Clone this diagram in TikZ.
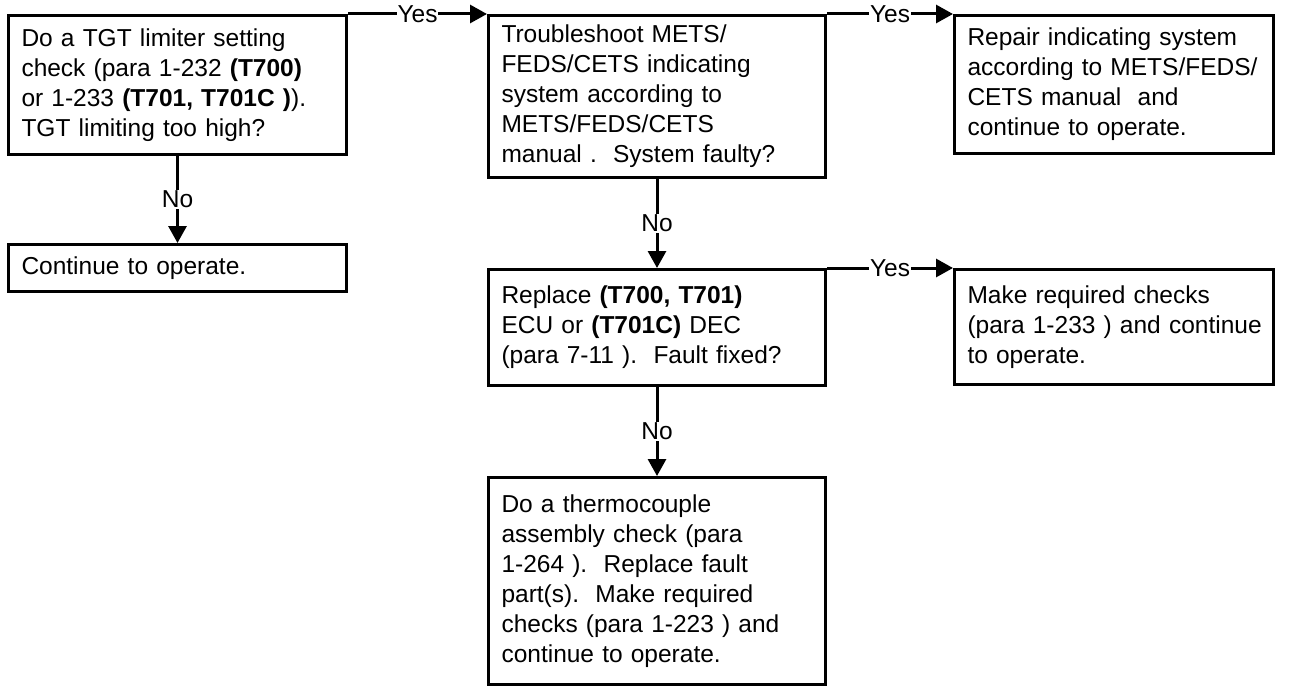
\documentclass[tikz,border=0pt]{standalone}
\usepackage{fontspec}
\setmainfont{Liberation Sans}
\usetikzlibrary{shapes,arrows.meta}

\tikzset{
  box/.style={rectangle, draw, line width=3pt, anchor=north west, align=left,
    inner xsep=13pt, inner ysep=0pt, font=\fontsize{24.5}{30}\selectfont},
  conn/.style={line width=3pt, -{Triangle[length=17pt,width=18pt]}},
  lbl/.style={fill=white, inner sep=1pt, font=\fontsize{24.5}{30}\selectfont}
}

\begin{document}
\begin{tikzpicture}[x=1pt,y=-1pt]
  \useasboundingbox (0,0) rectangle (1305,685);

  \foreach \x/\y/\w/\h/\nm/\txt in {
      7/14/338/139/tgt/{Do a TGT limiter setting\\check (para 1-232 \textbf{(T700)}\\or 1-233 \textbf{(T701, T701C )}).\\TGT limiting too high?},
      7/243/338/47/cont/{Continue to operate.},
      487/14/337/162/trbl/{Troubleshoot METS/\\FEDS/CETS indicating\\system according to\\METS/FEDS/CETS\\manual .\ \ System faulty?},
      953/14/319/138/repair/{Repair indicating system\\according to METS/FEDS/\\CETS manual\ \ and\\continue to operate.},
      487/268/337/116/ecu/{Replace \textbf{(T700, T701)}\\ECU or \textbf{(T701C)} DEC\\(para 7-11 ).\ \ Fault fixed?},
      953/268/319/115/checks/{Make required checks\\(para 1-233 ) and continue\\to operate.},
      487/476/337/207/thermo/{Do a thermocouple\\assembly check (para\\1-264 ).\ \ Replace fault\\part(s).\ \ Make required\\checks (para 1-223 ) and\\continue to operate.}}{
    \pgfmathsetmacro\tw{\w-26}
    % lines are broken by hand, so let them run into the right margin
    \node[box, minimum width=\w pt, minimum height=\h pt, text width=\tw pt] (\nm) at (\x,\y)
      {\rightskip=-12pt plus 1fil\relax\hyphenpenalty=10000 \txt};
  }

  % yes branches leave from the top right corner
  \foreach \a/\b in {tgt/trbl, trbl/repair, ecu/checks}
    \draw[conn] (\a.north east) -- node[lbl] {Yes} (\b.north west);

  % no branches go straight down
  \foreach \a/\b in {tgt/cont, trbl/ecu, ecu/thermo}
    \draw[conn] (\a.south) -- node[lbl] {No} (\b.north);
\end{tikzpicture}
\end{document}
